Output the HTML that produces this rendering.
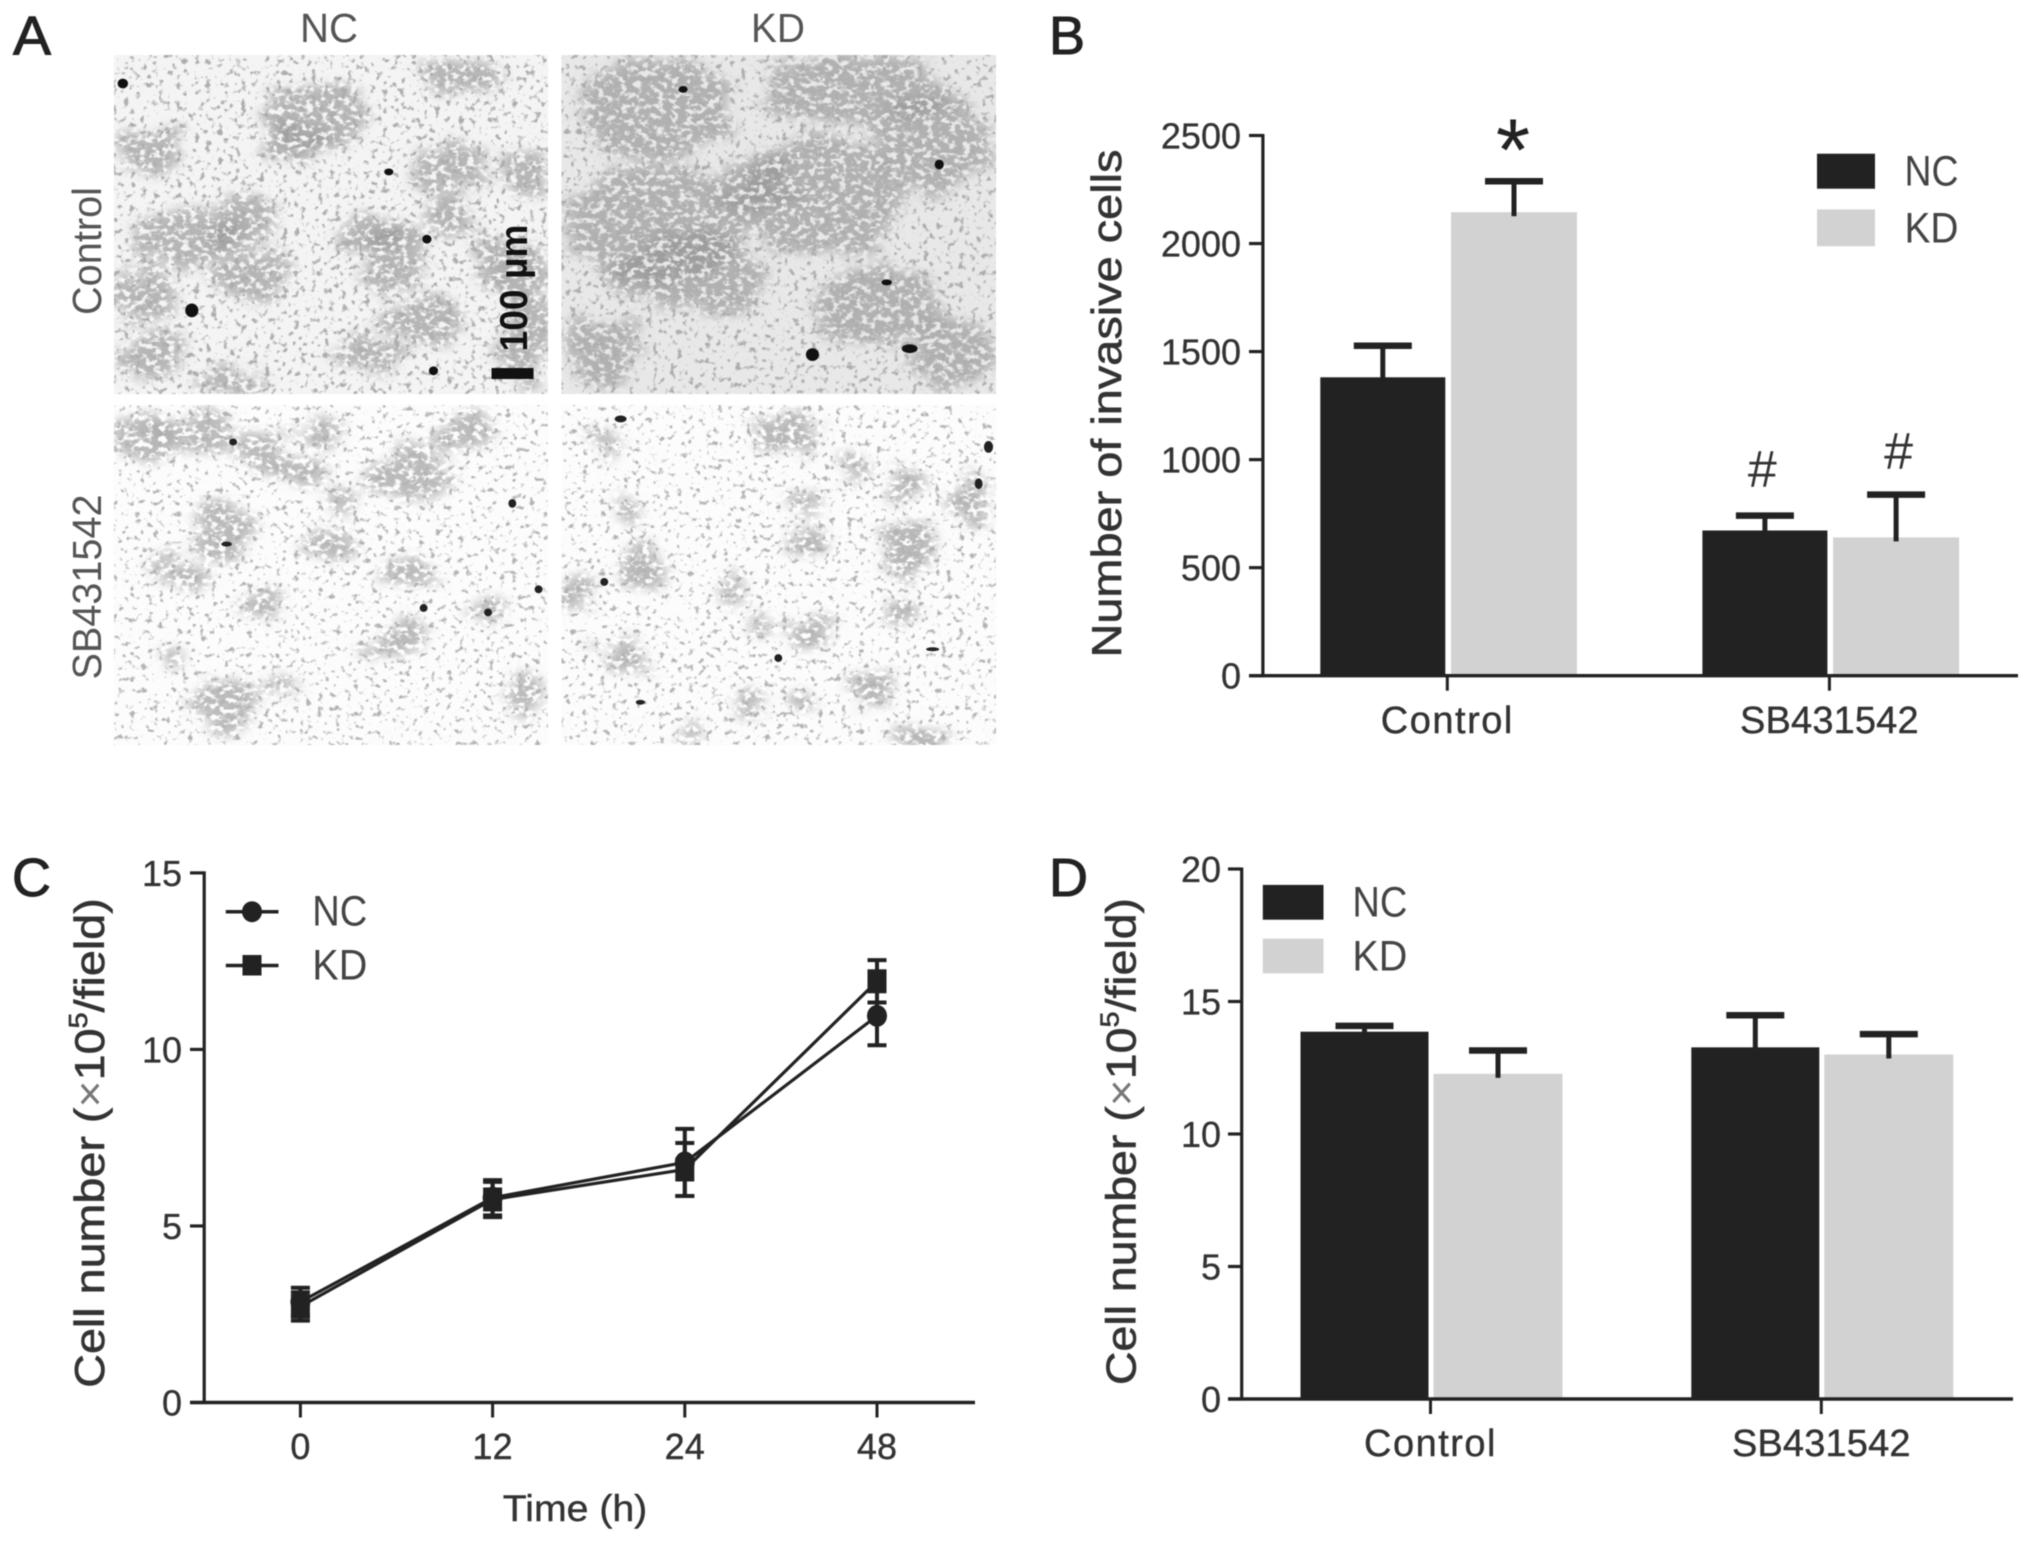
<!DOCTYPE html>
<html lang="en">
<head>
<meta charset="utf-8">
<title>Invasion and cell number figure</title>
<style>
html,body{margin:0;padding:0;background:#fff;width:2031px;height:1541px;overflow:hidden}
svg{display:block;font-family:"Liberation Sans",sans-serif;filter:blur(0.6px)}
</style>
</head>
<body>
<svg id="figure" xmlns="http://www.w3.org/2000/svg" width="2031" height="1541" viewBox="0 0 2031 1541">
<defs>
<filter id="soft" x="-30%" y="-30%" width="160%" height="160%">
<feTurbulence type="fractalNoise" baseFrequency="0.02" numOctaves="3" seed="7" result="n"/>
<feDisplacementMap in="SourceGraphic" in2="n" scale="80" xChannelSelector="R" yChannelSelector="G"/>
<feGaussianBlur stdDeviation="10" result="b"/>
<feTurbulence type="fractalNoise" baseFrequency="0.09" numOctaves="2" seed="31"/>
<feColorMatrix type="matrix" values="0 0 0 0 0  0 0 0 0 0  0 0 0 0 0  6 0 0 0 -2.1" result="holes"/>
<feComposite in="b" in2="holes" operator="in"/>
</filter>
<filter id="specksDense" x="0" y="0" width="1" height="1">
<feTurbulence type="fractalNoise" baseFrequency="0.17" numOctaves="2" seed="4"/>
<feColorMatrix type="matrix" values="0 0 0 0 0.42  0 0 0 0 0.42  0 0 0 0 0.42  6 0 0 0 -3.4"/>
</filter>
<filter id="specksLight" x="0" y="0" width="1" height="1">
<feTurbulence type="fractalNoise" baseFrequency="0.17" numOctaves="2" seed="11"/>
<feColorMatrix type="matrix" values="0 0 0 0 0.45  0 0 0 0 0.45  0 0 0 0 0.45  6 0 0 0 -3.55"/>
</filter>
<clipPath id="clipTL"><rect x="114" y="55" width="434" height="339"/></clipPath>
<clipPath id="clipTR"><rect x="561.5" y="55" width="434.5" height="339"/></clipPath>
<clipPath id="clipBL"><rect x="114" y="405" width="434" height="340"/></clipPath>
<clipPath id="clipBR"><rect x="561.5" y="405" width="434.5" height="340"/></clipPath>
</defs>
<rect x="0" y="0" width="2031" height="1541" fill="#fff"/>

<!-- Panel letters -->
<text x="13" y="54.5" font-size="55" textLength="38" lengthAdjust="spacingAndGlyphs" fill="#222" stroke="#222" stroke-width="1">A</text>
<text x="1049" y="54" font-size="54" fill="#222" stroke="#222" stroke-width="1">B</text>
<text x="12" y="896" font-size="54" fill="#222" stroke="#222" stroke-width="1">C</text>
<text x="1049" y="896" font-size="54" fill="#222" stroke="#222" stroke-width="1">D</text>

<!-- Panel A -->
<g>
<text x="329" y="42" text-anchor="middle" font-size="41" textLength="58" lengthAdjust="spacingAndGlyphs" fill="#555">NC</text>
<text x="778" y="42" text-anchor="middle" font-size="41" textLength="54" lengthAdjust="spacingAndGlyphs" fill="#555">KD</text>
<text transform="translate(101,251) rotate(-90)" text-anchor="middle" font-size="41" textLength="128" lengthAdjust="spacingAndGlyphs" fill="#555">Control</text>
<text transform="translate(101,587) rotate(-90)" text-anchor="middle" font-size="41" textLength="185" lengthAdjust="spacingAndGlyphs" fill="#555">SB431542</text>

<g clip-path="url(#clipTL)">
<rect x="114" y="55" width="434" height="339" fill="#f4f4f4"/>
<g transform="scale(0.6568,0.4911)" fill="#8f8f8f" fill-opacity="0.62" filter="url(#soft)">
<ellipse cx="700" cy="150" rx="60" ry="35"/><ellipse cx="480" cy="240" rx="80" ry="70"/><ellipse cx="230" cy="310" rx="50" ry="50"/><ellipse cx="450" cy="290" rx="50" ry="40"/><ellipse cx="690" cy="340" rx="50" ry="50"/><ellipse cx="800" cy="360" rx="35" ry="40"/><ellipse cx="280" cy="480" rx="80" ry="60"/><ellipse cx="370" cy="450" rx="50" ry="60"/><ellipse cx="560" cy="470" rx="50" ry="40"/><ellipse cx="600" cy="530" rx="50" ry="60"/><ellipse cx="690" cy="440" rx="45" ry="40"/><ellipse cx="220" cy="600" rx="50" ry="60"/><ellipse cx="570" cy="720" rx="50" ry="30"/><ellipse cx="650" cy="650" rx="60" ry="50"/><ellipse cx="240" cy="730" rx="50" ry="50"/><ellipse cx="350" cy="770" rx="50" ry="30"/><ellipse cx="800" cy="650" rx="40" ry="150"/><ellipse cx="380" cy="560" rx="60" ry="50"/><ellipse cx="750" cy="530" rx="40" ry="60"/>
</g>
<rect x="114" y="55" width="434" height="339" filter="url(#specksDense)"/>
<g transform="scale(0.6568,0.4911)" fill="#111"><ellipse cx="187" cy="170" rx="8" ry="10"/><ellipse cx="292" cy="632" rx="10" ry="14"/><ellipse cx="650" cy="487" rx="7" ry="9"/><ellipse cx="592" cy="350" rx="7" ry="7"/><ellipse cx="660" cy="755" rx="7" ry="9"/></g>
</g>
<g clip-path="url(#clipTR)">
<rect x="561.5" y="55" width="434.5" height="339" fill="#e8e8e8"/>
<g transform="scale(0.6568,0.4911)" fill="#8f8f8f" fill-opacity="0.62" filter="url(#soft)">
<ellipse cx="1000" cy="220" rx="120" ry="100"/><ellipse cx="1300" cy="180" rx="150" ry="70"/><ellipse cx="1420" cy="290" rx="90" ry="100"/><ellipse cx="1000" cy="450" rx="140" ry="120"/><ellipse cx="1250" cy="400" rx="120" ry="120"/><ellipse cx="1050" cy="560" rx="120" ry="80"/><ellipse cx="1340" cy="620" rx="100" ry="80"/><ellipse cx="920" cy="720" rx="60" ry="70"/><ellipse cx="1450" cy="720" rx="70" ry="70"/><ellipse cx="1150" cy="380" rx="60" ry="50"/>
</g>
<rect x="561.5" y="55" width="434.5" height="339" filter="url(#specksDense)"/>
<g transform="scale(0.6568,0.4911)" fill="#111"><ellipse cx="1237" cy="722" rx="10" ry="13"/><ellipse cx="1385" cy="710" rx="12" ry="9"/><ellipse cx="1350" cy="575" rx="8" ry="6"/><ellipse cx="1040" cy="182" rx="7" ry="7"/><ellipse cx="1430" cy="335" rx="7" ry="10"/></g>
</g>
<g clip-path="url(#clipBL)">
<rect x="114" y="405" width="434" height="340" fill="#fcfcfc"/>
<g transform="scale(0.6568,0.4911)" fill="#909090" fill-opacity="0.6" filter="url(#soft)">
<ellipse cx="220" cy="890" rx="40" ry="40"/><ellipse cx="300" cy="880" rx="60" ry="40"/><ellipse cx="490" cy="880" rx="40" ry="30"/><ellipse cx="400" cy="920" rx="40" ry="50"/><ellipse cx="460" cy="960" rx="40" ry="30"/><ellipse cx="620" cy="960" rx="70" ry="50"/><ellipse cx="700" cy="880" rx="50" ry="40"/><ellipse cx="340" cy="1080" rx="50" ry="60"/><ellipse cx="240" cy="1145" rx="25" ry="20"/><ellipse cx="290" cy="1180" rx="30" ry="30"/><ellipse cx="515" cy="1020" rx="20" ry="30"/><ellipse cx="620" cy="1160" rx="30" ry="30"/><ellipse cx="400" cy="1230" rx="30" ry="30"/><ellipse cx="600" cy="1305" rx="45" ry="30"/><ellipse cx="340" cy="1440" rx="40" ry="60"/><ellipse cx="800" cy="1420" rx="25" ry="40"/><ellipse cx="430" cy="1400" rx="20" ry="25"/><ellipse cx="265" cy="1330" rx="20" ry="20"/><ellipse cx="500" cy="1110" rx="35" ry="30"/><ellipse cx="740" cy="1250" rx="30" ry="30"/>
</g>
<rect x="114" y="405" width="434" height="340" filter="url(#specksLight)"/>
<g transform="scale(0.6568,0.4911)" fill="#222"><ellipse cx="355" cy="900" rx="6" ry="7"/><ellipse cx="345" cy="1108" rx="8" ry="5"/><ellipse cx="645" cy="1238" rx="6" ry="8"/><ellipse cx="743" cy="1247" rx="6" ry="8"/><ellipse cx="820" cy="1200" rx="6" ry="8"/><ellipse cx="780" cy="1025" rx="6" ry="9"/></g>
</g>
<g clip-path="url(#clipBR)">
<rect x="561.5" y="405" width="434.5" height="340" fill="#fcfcfc"/>
<g transform="scale(0.6568,0.4911)" fill="#8c8c8c" fill-opacity="0.62" filter="url(#soft)">
<ellipse cx="925" cy="905" rx="25" ry="25"/><ellipse cx="960" cy="1030" rx="25" ry="30"/><ellipse cx="1200" cy="880" rx="50" ry="40"/><ellipse cx="1300" cy="960" rx="25" ry="25"/><ellipse cx="1380" cy="985" rx="25" ry="30"/><ellipse cx="1225" cy="1030" rx="25" ry="25"/><ellipse cx="1480" cy="1020" rx="25" ry="50"/><ellipse cx="1235" cy="1110" rx="35" ry="30"/><ellipse cx="1380" cy="1120" rx="40" ry="60"/><ellipse cx="980" cy="1160" rx="35" ry="50"/><ellipse cx="880" cy="1210" rx="25" ry="40"/><ellipse cx="1115" cy="1200" rx="20" ry="35"/><ellipse cx="1375" cy="1240" rx="30" ry="30"/><ellipse cx="1160" cy="1270" rx="20" ry="25"/><ellipse cx="1240" cy="1290" rx="30" ry="40"/><ellipse cx="955" cy="1335" rx="25" ry="40"/><ellipse cx="1320" cy="1400" rx="35" ry="40"/><ellipse cx="1150" cy="1430" rx="25" ry="20"/><ellipse cx="1045" cy="1500" rx="20" ry="15"/><ellipse cx="1400" cy="1500" rx="40" ry="18"/><ellipse cx="1220" cy="1425" rx="15" ry="20"/><ellipse cx="890" cy="1320" rx="15" ry="15"/>
</g>
<rect x="561.5" y="405" width="434.5" height="340" filter="url(#specksLight)"/>
<g transform="scale(0.6568,0.4911)" fill="#222"><ellipse cx="945" cy="853" rx="9" ry="7"/><ellipse cx="1490" cy="985" rx="6" ry="11"/><ellipse cx="1505" cy="910" rx="7" ry="12"/><ellipse cx="1185" cy="1340" rx="6" ry="8"/><ellipse cx="920" cy="1185" rx="6" ry="8"/><ellipse cx="975" cy="1430" rx="7" ry="5"/><ellipse cx="1420" cy="1322" rx="10" ry="4"/></g>
</g>
<text transform="translate(527,288) rotate(-90)" text-anchor="middle" font-size="39" font-weight="bold" textLength="127" lengthAdjust="spacingAndGlyphs" fill="#111">100 µm</text>
<rect x="491.5" y="368" width="42" height="11" fill="#111"/>
</g>

<!-- Static chart titles and annotations -->
<text transform="translate(1121,403.5) rotate(-90)" text-anchor="middle" font-size="42" textLength="508" lengthAdjust="spacingAndGlyphs" fill="#333" stroke="#333" stroke-width="0.6">Number of invasive cells</text>
<text transform="translate(104,1143) rotate(-90)" text-anchor="middle" font-size="42" textLength="489.5" lengthAdjust="spacingAndGlyphs" fill="#333" stroke="#333" stroke-width="0.6">Cell number (<tspan fill="#777" stroke="none">×</tspan>10<tspan font-size="26" dy="-17">5</tspan><tspan dy="17">/field)</tspan></text>
<text transform="translate(1135.5,1141.5) rotate(-90)" text-anchor="middle" font-size="42" textLength="487" lengthAdjust="spacingAndGlyphs" fill="#333" stroke="#333" stroke-width="0.6">Cell number (<tspan fill="#777" stroke="none">×</tspan>10<tspan font-size="26" dy="-17">5</tspan><tspan dy="17">/field)</tspan></text>
<text x="575" y="1521" text-anchor="middle" font-size="37" textLength="144.5" lengthAdjust="spacingAndGlyphs" fill="#333" stroke="#333" stroke-width="0.4">Time (h)</text>
<text x="1513" y="180" text-anchor="middle" font-size="88" fill="#222">*</text>
<text x="1762.3" y="487" text-anchor="middle" font-size="52" fill="#333">#</text>
<text x="1898.6" y="469" text-anchor="middle" font-size="52" fill="#333">#</text>

<g id="panelB"></g>
<g id="panelC"></g>
<g id="panelD"></g>

<!-- Legends -->
<g>
<rect x="1817" y="153.7" width="58" height="35" fill="#222"/>
<rect x="1817" y="209.4" width="58" height="36.8" fill="#d2d2d2"/>
<text x="1904.5" y="185.5" font-size="43" textLength="54" lengthAdjust="spacingAndGlyphs" fill="#444">NC</text>
<text x="1904.5" y="242.3" font-size="43" textLength="54" lengthAdjust="spacingAndGlyphs" fill="#444">KD</text>
</g>
<g fill="#222" stroke="none">
<line x1="225.8" y1="911.7" x2="278.5" y2="911.7" stroke="#222" stroke-width="3.5"/>
<ellipse cx="252" cy="911.7" rx="10" ry="10.5"/>
<line x1="225.8" y1="965.5" x2="278.5" y2="965.5" stroke="#222" stroke-width="3.5"/>
<rect x="242.5" y="955" width="19" height="20.5"/>
<text x="312.3" y="925.7" font-size="43" textLength="55" lengthAdjust="spacingAndGlyphs" fill="#444">NC</text>
<text x="312.3" y="979.4" font-size="43" textLength="55" lengthAdjust="spacingAndGlyphs" fill="#444">KD</text>
</g>
<g>
<rect x="1262.8" y="884.9" width="60.7" height="34.8" fill="#222"/>
<rect x="1262.8" y="938.6" width="60.7" height="34.8" fill="#d2d2d2"/>
<text x="1352.4" y="916.7" font-size="43" textLength="55" lengthAdjust="spacingAndGlyphs" fill="#444">NC</text>
<text x="1352.4" y="970.4" font-size="43" textLength="55" lengthAdjust="spacingAndGlyphs" fill="#444">KD</text>
</g>
</svg>

<script>
// Panel B data: invasive cell counts
const bCategories = ['Control', 'SB431542'];
const bTickLabels = [0, 500, 1000, 1500, 2000, 2500];
const bNC = [1381, 672];
const bKD = [2145, 640];
const bNCErr = [146, 69];
const bKDErr = [143, 198];

// Panel C data: growth curve
const cTimeLabels = ['0', '12', '24', '48'];
const cTickLabels = [0, 5, 10, 15];
const cNC = [2.85, 5.8, 6.8, 10.95];
const cKD = [2.72, 5.75, 6.6, 11.93];
const cNCErr = [0.4, 0.5, 0.95, 0.83];
const cKDErr = [0.4, 0.5, 0.75, 0.6];

// Panel D data: cell number
const dCategories = ['Control', 'SB431542'];
const dTickLabels = [0, 5, 10, 15, 20];
const dNC = [13.86, 13.27];
const dKD = [12.27, 13.0];
const dNCErr = [0.22, 1.21];
const dKDErr = [0.88, 0.77];

const NS = 'http://www.w3.org/2000/svg';
const DARK = '#222';
const GREY = '#d2d2d2';
const TEXT = '#333';

function node(parent, tag, attrs, content) {
  const el = document.createElementNS(NS, tag);
  for (const k in attrs) el.setAttribute(k, attrs[k]);
  if (content !== undefined) el.textContent = content;
  parent.appendChild(el);
  return el;
}

function drawYAxis(g, axis, ticks, yScale) {
  const spine = node(g, 'line', {x1: axis.x, x2: axis.x, y1: yScale(ticks[ticks.length - 1]) - 1.5, y2: yScale(0) + 1.5, stroke: DARK, 'stroke-width': 3.2});
  
  
  ticks.forEach(function (t) {
    const mark = node(g, 'line', {x1: axis.tickStart, x2: axis.x, y1: yScale(t), y2: yScale(t), stroke: DARK, 'stroke-width': 3.2});
    
    
    const label = node(g, 'text', {x: axis.labelX, y: yScale(t) + 13, 'text-anchor': 'end', 'font-size': 36, fill: TEXT, stroke: TEXT, 'stroke-width': 0.3}, String(t));
    
    
  });
}

function drawXAxis(g, axis, labels, xScale, y0) {
  const spine = node(g, 'line', {x1: axis.start, x2: axis.end, y1: y0, y2: y0, stroke: DARK, 'stroke-width': 3.4});
  
  
  labels.forEach(function (name, i) {
    const mark = node(g, 'line', {x1: xScale(i), x2: xScale(i), y1: y0, y2: y0 + axis.tickLen, stroke: DARK, 'stroke-width': 3});
    
    
    const label = node(g, 'text', {x: xScale(i), y: axis.labelY, 'text-anchor': 'middle', 'font-size': axis.fontSize, 'letter-spacing': name.length === 7 ? 1.5 : 0.15, fill: TEXT, stroke: TEXT, 'stroke-width': 0.4}, name);
    
    
  });
}

function drawBarSeries(g, values, errors, offset, width, fill, seriesName, xScale, yScale) {
  values.forEach(function (v, i) {
    const left = xScale(i) + offset;
    const mid = left + width / 2;
    const bar = node(g, 'rect', {x: left, y: yScale(v), width: width, height: yScale(0) - yScale(v), fill: fill});
    
    
    const top = yScale(v + errors[i]);
    const stem = node(g, 'line', {x1: mid, x2: mid, y1: yScale(v) + 4, y2: top, stroke: DARK, 'stroke-width': 5});
    
    
    const cap = node(g, 'line', {x1: mid - 29, x2: mid + 29, y1: top, y2: top, stroke: DARK, 'stroke-width': 6.5});
    
    
  });
}

// Panel B
(function () {
  const g = document.getElementById('panelB');
  const xScale = function (i) { return 1447.3 + i * 382.1; };
  const yScale = function (v) { return 675.7 - v * 540.2 / 2500; };
  drawBarSeries(g, bNC, bNCErr, -127, 125, DARK, 'nc', xScale, yScale);
  drawBarSeries(g, bKD, bKDErr, 3.7, 126, GREY, 'kd', xScale, yScale);
  drawYAxis(g, {x: 1262.9, tickStart: 1249, labelX: 1241}, bTickLabels, yScale);
  drawXAxis(g, {start: 1249, end: 2018, tickLen: 15, labelY: 733, fontSize: 38}, bCategories, xScale, yScale(0));
})();

// Panel C
(function () {
  const g = document.getElementById('panelC');
  const xScale = function (i) { return 300.4 + i * 192.2; };
  const yScale = function (v) { return 1402.5 - v * 529.6 / 15; };
  function series(values, errors, name, marker) {
    const path = values.map(function (v, i) { return (i ? 'L' : 'M') + xScale(i) + ' ' + yScale(v); }).join(' ');
    const line = node(g, 'path', {d: path, fill: 'none', stroke: DARK, 'stroke-width': 3.2});
    
    
    values.forEach(function (v, i) {
      const cx = xScale(i);
      const bar = node(g, 'path', {
        d: 'M' + cx + ' ' + yScale(v + errors[i]) + ' V' + yScale(v - errors[i]) +
           ' M' + (cx - 9.5) + ' ' + yScale(v + errors[i]) + ' H' + (cx + 9.5) +
           ' M' + (cx - 9.5) + ' ' + yScale(v - errors[i]) + ' H' + (cx + 9.5),
        fill: 'none', stroke: DARK, 'stroke-width': 4});
      
      
      let point;
      if (marker === 'circle') {
        point = node(g, 'ellipse', {cx: cx, cy: yScale(v), rx: 10, ry: 11, fill: DARK});
      } else {
        point = node(g, 'rect', {x: cx - 9.5, y: yScale(v) - 12, width: 19, height: 24, fill: DARK});
      }
      
      
    });
  }
  series(cNC, cNCErr, 'nc', 'circle');
  series(cKD, cKDErr, 'kd', 'square');
  drawYAxis(g, {x: 204.2, tickStart: 190, labelX: 182}, cTickLabels, yScale);
  drawXAxis(g, {start: 190, end: 975, tickLen: 15, labelY: 1459, fontSize: 36}, cTimeLabels, xScale, yScale(0));
})();

// Panel D
(function () {
  const g = document.getElementById('panelD');
  const xScale = function (i) { return 1430.5 + i * 390.8; };
  const yScale = function (v) { return 1399 - v * 530 / 20; };
  drawBarSeries(g, dNC, dNCErr, -130, 128, DARK, 'nc', xScale, yScale);
  drawBarSeries(g, dKD, dKDErr, 3, 129, GREY, 'kd', xScale, yScale);
  drawYAxis(g, {x: 1241.7, tickStart: 1228, labelX: 1221}, dTickLabels, yScale);
  drawXAxis(g, {start: 1228, end: 2013, tickLen: 15, labelY: 1456, fontSize: 38}, dCategories, xScale, yScale(0));
})();
</script>
</body>
</html>
